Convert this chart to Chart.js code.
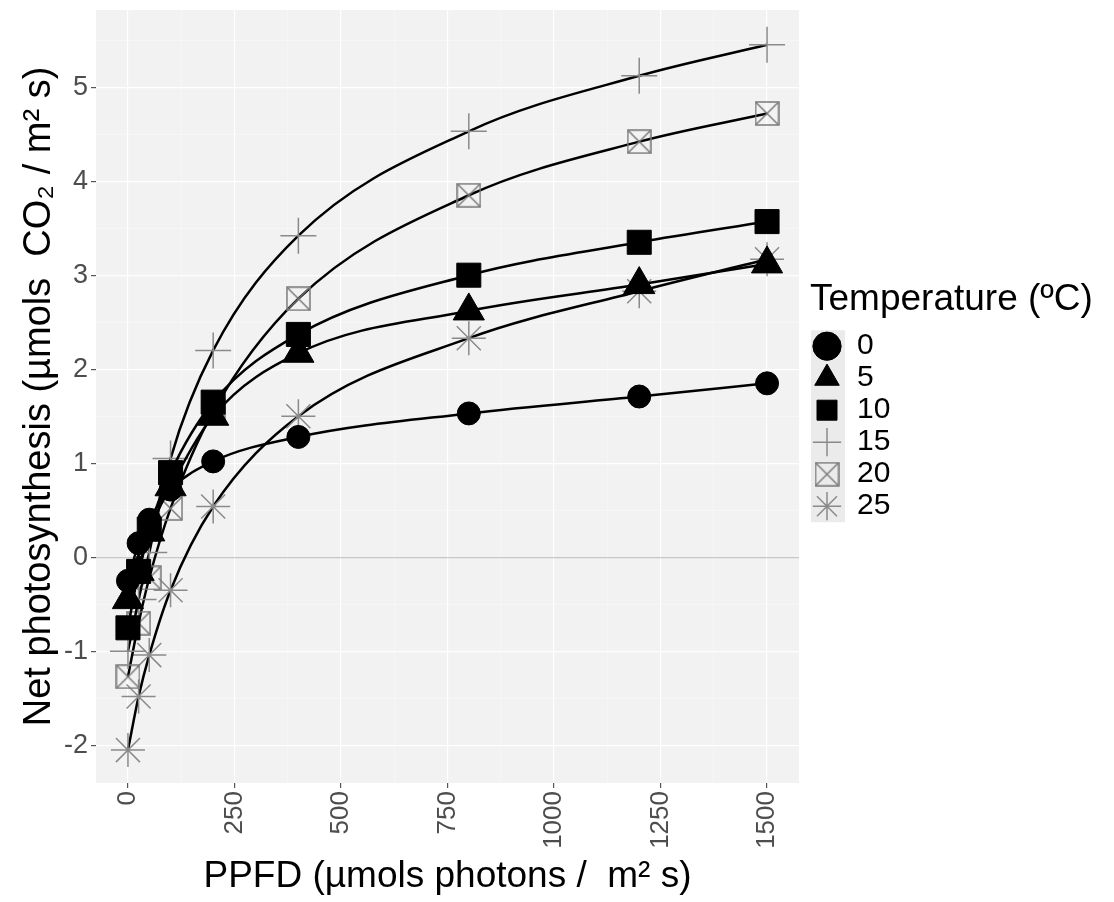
<!DOCTYPE html>
<html>
<head>
<meta charset="utf-8">
<script src="https://cdn.jsdelivr.net/npm/chart.js@4.4.1/dist/chart.umd.min.js"></script>
<style>
  html, body { margin: 0; padding: 0; background: #fff; }
  #wrap { width: 1114px; height: 902px; }
</style>
</head>
<body>
<div id="wrap"><canvas id="chart" width="1114" height="902"></canvas></div>
<script>
// PPFD levels (x)
const ppfd = [0, 25, 50, 100, 200, 400, 800, 1200, 1500];

// net photosynthesis per temperature
const t0  = [-0.25, 0.15, 0.40, 0.72, 1.02, 1.28, 1.53, 1.71, 1.85];
const t5  = [-0.45, -0.15, 0.27, 0.75, 1.50, 2.17, 2.62, 2.90, 3.12];
const t10 = [-0.75, -0.15, 0.30, 0.90, 1.65, 2.37, 3.00, 3.35, 3.57];
const t15 = [-1.00, -0.45, 0.05, 1.05, 2.20, 3.42, 4.53, 5.12, 5.45];
const t20 = [-1.27, -0.70, -0.22, 0.52, 1.55, 2.75, 3.85, 4.42, 4.72];
const t25 = [-2.05, -1.48, -1.04, -0.35, 0.54, 1.50, 2.33, 2.83, 3.17];

const tempLabels = ['0', '5', '10', '15', '20', '25'];
const xTicks = [0, 250, 500, 750, 1000, 1250, 1500];
const yTicks = [-2, -1, 0, 1, 2, 3, 4, 5];

const FONT = 'Liberation Sans, Arial, sans-serif';

// square with an x inside (ggplot shape 7)
function boxX(size){
    const c = document.createElement('canvas');
    c.width = size; c.height = size;
    const g = c.getContext('2d');
    g.strokeStyle = '#7a7a7a';
    g.lineWidth = 1.5;
    g.strokeRect(1, 1, size - 2, size - 2);
    g.beginPath();
    g.moveTo(1, 1); g.lineTo(size - 1, size - 1);
    g.moveTo(size - 1, 1); g.lineTo(1, size - 1);
    g.stroke();
    return c;
}

function series(label, values, style, radius, fill, edge, bw){
    return {
        label: label,
        data: ppfd.map((x, i) => ({ x: x, y: values[i] })),
        borderColor: '#000',
        borderWidth: 2.5,
        cubicInterpolationMode: 'monotone',
        pointStyle: style,
        pointRadius: radius,
        pointBackgroundColor: fill,
        pointBorderColor: edge,
        pointBorderWidth: bw
    };
}

const grey = '#8a8a8a';
const datasets = [
    series(tempLabels[0], t0, 'circle', 11.5, '#000', '#000', 1),
    series(tempLabels[1], t5, 'triangle', 18, '#000', '#000', 1),
    series(tempLabels[2], t10, 'rect', 17, '#000', '#000', 1),
    series(tempLabels[3], t15, 'cross', 18, grey, grey, 1.5),
    series(tempLabels[4], t20, boxX(25), 12, 'rgba(0,0,0,0)', grey, 1.5),
    series(tempLabels[5], t25, 'star', 17, grey, grey, 1.5)
];

const LEGEND_W = 315;   // width of the legend column right of the panel
const LEGEND_SHIFT = 11; // gap between panel and legend keys
const LEGEND_UP = 54;    // legend block sits a bit higher than centred

const panelBg = {
    id: 'panelBg',
    beforeLayout(chart){
        const lg = chart.legend;
        if (lg && !lg._fixedFit){
            const fit = lg.fit.bind(lg);
            lg.fit = function(){ fit(); this.width = LEGEND_W; };
            lg._fixedFit = true;
        }
    },
    afterLayout(chart){
        const lg = chart.legend;
        if (lg){
            lg.left += LEGEND_SHIFT;
            lg.top -= LEGEND_UP;
            lg.bottom -= LEGEND_UP;
        }
    },
    beforeDraw(chart){
        const a = chart.chartArea, ctx = chart.ctx;
        ctx.save();
        ctx.fillStyle = '#f2f2f2';
        ctx.fillRect(a.left, a.top, a.right - a.left, a.bottom - a.top);
        // grey strip behind legend keys
        const boxes = chart.legend && chart.legend.legendHitBoxes;
        if (boxes && boxes.length){
            const first = boxes[0], last = boxes[boxes.length - 1];
            const bw = chart.legend.options.labels.boxWidth;
            const fs = chart.legend.options.labels.font.size;
            ctx.fillStyle = '#ebebeb';
            ctx.fillRect(first.left - 1, first.top + fs / 2 - 16, bw, last.top - first.top + 32);
        }
        ctx.restore();
    }
};

const isMajor = (v, list) => list.includes(v);

new Chart(document.getElementById('chart'), {
    type: 'line',
    data: { datasets: datasets },
    options: {
        animation: false,
        responsive: false,
        layout: { autoPadding: false, padding: { top: 10, left: 0, bottom: 0, right: 0 } },
        plugins: {
            tooltip: { enabled: false },
            legend: {
                position: 'right',
                align: 'center',
                title: {
                    display: true,
                    text: 'Temperature (ºC)',
                    position: 'start',
                    color: '#000',
                    font: { family: FONT, size: 37 },
                    padding: { top: 0, bottom: 4 }
                },
                labels: {
                    usePointStyle: true,
                    boxWidth: 34,
                    boxHeight: 20,
                    padding: 2,
                    color: '#000',
                    font: { family: FONT, size: 30 }
                }
            }
        },
        scales: {
            x: {
                type: 'linear',
                min: -75,
                max: 1575,
                afterFit: s => { s.height = 119; s.paddingLeft = 0; s.paddingRight = 0; },
                border: { display: false },
                grid: {
                    color: ctx => isMajor(ctx.tick.value, xTicks) ? '#ffffff' : 'rgba(255,255,255,0.6)',
                    lineWidth: ctx => isMajor(ctx.tick.value, xTicks) ? 1.2 : 0.6,
                    tickColor: ctx => isMajor(ctx.tick.value, xTicks) ? '#555' : 'rgba(0,0,0,0)',
                    tickLength: 5
                },
                ticks: {
                    stepSize: 125,
                    includeBounds: false,
                    autoSkip: false,
                    minRotation: 90,
                    maxRotation: 90,
                    padding: 3,
                    color: '#4d4d4d',
                    font: { family: FONT, size: 26 },
                    callback: v => isMajor(v, xTicks) ? String(v) : ''
                },
                title: {
                    display: true,
                    text: 'PPFD (µmols photons /  m² s)',
                    color: '#000',
                    font: { family: FONT, size: 37 },
                    padding: { top: 0, bottom: 3 }
                }
            },
            y: {
                type: 'linear',
                min: -2.4,
                max: 5.82,
                afterFit: s => { s.width = 96; s.paddingTop = 0; s.paddingBottom = 0; },
                border: { display: false },
                grid: {
                    color: ctx => ctx.tick.value === 0 ? '#c8c8c8' : (isMajor(ctx.tick.value, yTicks) ? '#ffffff' : 'rgba(255,255,255,0.6)'),
                    lineWidth: ctx => isMajor(ctx.tick.value, yTicks) ? 1.2 : 0.6,
                    tickColor: ctx => isMajor(ctx.tick.value, yTicks) ? '#555' : 'rgba(0,0,0,0)',
                    tickLength: 5
                },
                ticks: {
                    stepSize: 0.5,
                    includeBounds: false,
                    autoSkip: false,
                    padding: 3,
                    color: '#4d4d4d',
                    font: { family: FONT, size: 27 },
                    callback: v => isMajor(v, yTicks) ? String(v) : ''
                },
                title: {
                    display: true,
                    text: 'Net photosynthesis (µmols  CO₂ / m² s)',
                    color: '#000',
                    font: { family: FONT, size: 38 },
                    padding: { top: 17, bottom: 0 }
                }
            }
        }
    },
    plugins: [panelBg]
});
</script>
</body>
</html>
